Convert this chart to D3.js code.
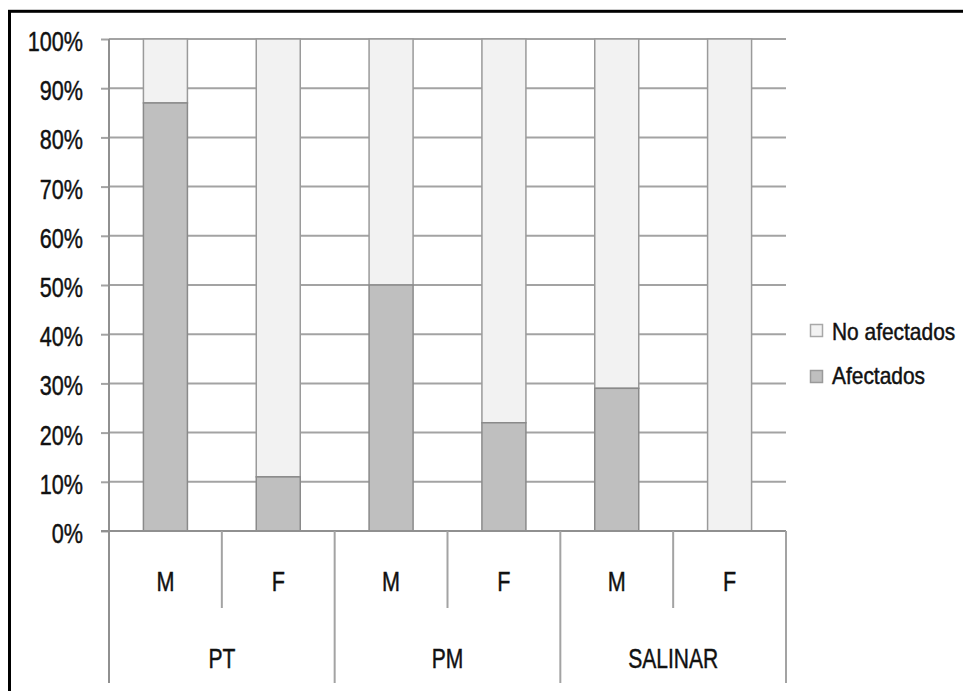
<!DOCTYPE html>
<html>
<head>
<meta charset="utf-8">
<script src="https://cdn.jsdelivr.net/npm/d3@7"></script>
<style>
  html, body { margin: 0; padding: 0; background: #fff; }
  svg { display: block; }
  text { font-family: "Liberation Sans", Arial, sans-serif; fill: #111; stroke: #111; stroke-width: 0.45px; }
</style>
</head>
<body>
<svg id="chart" width="963" height="691"></svg>
<script>
// Share of affected / not affected individuals by site and sex
const groups = ["PT", "PM", "SALINAR"];
const sexes = ["M", "F"];
const afectados   = [87, 11, 50, 22, 29, 0];
const noAfectados = [13, 89, 50, 78, 71, 100];
const yTicks = [0, 10, 20, 30, 40, 50, 60, 70, 80, 90, 100];
const seriesNames = ["No afectados", "Afectados"];

const cells = [];
groups.forEach(g => sexes.forEach(s => cells.push({ group: g, sex: s, key: g + "-" + s })));
cells.forEach((c, i) => { c.af = afectados[i]; c.no = noAfectados[i]; });

const colors = { af: "#bfbfbf", no: "#f2f2f2" };
const plot = { left: 109, right: 786, top: 39, bottom: 531, axisBottom: 683, subBottom: 608 };

const svg = d3.select("#chart");

// outer frame (runs past the right and bottom edges)
svg.append("rect")
  .attr("x", 9.5).attr("y", 11.3)
  .attr("width", 1200).attr("height", 1200)
  .attr("fill", "none").attr("stroke", "#000").attr("stroke-width", 3);

const y = d3.scaleLinear().domain([0, 100]).range([plot.bottom, plot.top]);
const xCell = d3.scaleBand().domain(cells.map(c => c.key)).range([plot.left, plot.right]).padding(0);
const xGroup = d3.scaleBand().domain(groups).range([plot.left, plot.right]).padding(0);
const xBar = d3.scaleBand().domain(cells.map(c => c.key)).range([plot.left, plot.right])
  .paddingInner(0.61).paddingOuter(0.305);

// horizontal gridlines
svg.append("g").selectAll("line").data(yTicks).join("line")
  .attr("x1", plot.left).attr("x2", plot.right)
  .attr("y1", d => y(d)).attr("y2", d => y(d))
  .attr("stroke", "#a3a3a3").attr("stroke-width", 2);

// y axis ticks and labels
const yAxis = svg.append("g")
  .attr("transform", `translate(${plot.left},0)`)
  .call(d3.axisLeft(y).tickValues(yTicks).tickFormat(d => d + "%").tickSize(8).tickSizeOuter(0));
yAxis.select(".domain").remove();
yAxis.selectAll(".tick line").attr("stroke", "#a3a3a3").attr("stroke-width", 2);
yAxis.selectAll(".tick text")
  .attr("x", 0).attr("dy", null)
  .attr("transform", "translate(-26,11.5) scale(0.8,1)")
  .style("font-size", "27px").style("font-family", "Liberation Sans, Arial, sans-serif")
  .attr("fill", "#111");

// stacked bars
const barG = svg.append("g");
cells.forEach(c => {
  const x0 = xBar(c.key), w = xBar.bandwidth();
  barG.append("rect")
    .attr("x", x0).attr("width", w)
    .attr("y", y(c.af + c.no)).attr("height", y(c.af) - y(c.af + c.no))
    .attr("fill", colors.no).attr("stroke", "#9a9a9a").attr("stroke-width", 1.5);
  barG.append("rect")
    .attr("x", x0).attr("width", w)
    .attr("y", y(c.af)).attr("height", y(0) - y(c.af))
    .attr("fill", colors.af).attr("stroke", "#8a8a8a").attr("stroke-width", 1.5);
});

// category axis: baseline, separators
const sepG = svg.append("g").attr("stroke", "#a3a3a3").attr("stroke-width", 2);
sepG.append("line")
  .attr("x1", plot.left - 8).attr("x2", plot.right)
  .attr("y1", y(0)).attr("y2", y(0)).attr("stroke", "#909090");
sepG.append("line")
  .attr("x1", plot.left).attr("x2", plot.left)
  .attr("y1", plot.top).attr("y2", plot.axisBottom).attr("stroke", "#909090");
cells.forEach((c, i) => {
  const xr = xCell(c.key) + xCell.bandwidth();
  const isGroupEnd = (i % sexes.length) === sexes.length - 1;
  sepG.append("line")
    .attr("x1", xr).attr("x2", xr)
    .attr("y1", y(0)).attr("y2", isGroupEnd ? plot.axisBottom : plot.subBottom);
});

// labels drawn narrow and tall
function label(parent, x, yy, str, size, sx, anchor) {
  parent.append("g").attr("transform", `translate(${x},${yy})`)
    .append("text")
    .attr("transform", `scale(${sx},1)`)
    .attr("text-anchor", anchor || "middle")
    .style("font-size", size + "px")
    .text(str);
}

const labG = svg.append("g");
cells.forEach(c => {
  label(labG, xCell(c.key) + xCell.bandwidth() / 2, 590.5, c.sex, 27, 0.8);
});
groups.forEach(g => {
  label(labG, xGroup(g) + xGroup.bandwidth() / 2, 668, g, 27, 0.78);
});

// legend
const legend = svg.append("g");
const legendRows = [
  { name: seriesNames[0], fill: colors.no, stroke: "#a8a8a8", box: 324, base: 340 },
  { name: seriesNames[1], fill: colors.af, stroke: "#9a9a9a", box: 370, base: 384 }
];
legendRows.forEach(r => {
  legend.append("rect")
    .attr("x", 810.5).attr("y", r.box + 0.5).attr("width", 12).attr("height", 12)
    .attr("fill", r.fill).attr("stroke", r.stroke).attr("stroke-width", 1.5);
  label(legend, 832, r.base, r.name, 23, 0.91, "start");
});
</script>
</body>
</html>
